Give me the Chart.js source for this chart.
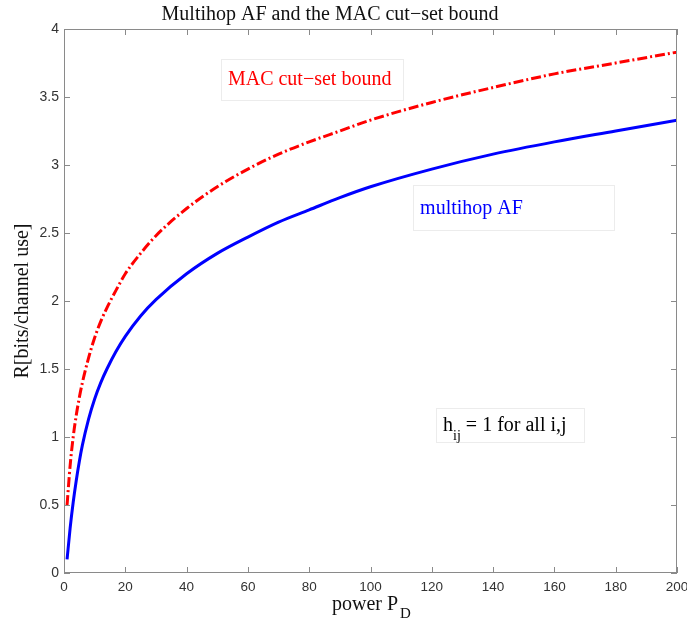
<!DOCTYPE html>
<html>
<head>
<meta charset="utf-8">
<script src="https://cdn.jsdelivr.net/npm/chart.js@4.4.1/dist/chart.umd.min.js"></script>
<style>
  html, body { margin: 0; padding: 0; background: #fff; }
  #wrap { width: 687px; height: 624px; position: relative; }
</style>
</head>
<body>
<div id="wrap"><canvas id="c"></canvas></div>
<script>
// values
const powerP = [1, 2, 3, 4, 5, 6, 8, 10, 12, 14, 17, 20, 25, 30, 40, 50, 60, 70, 80, 90, 100, 120, 140, 160, 180, 200];
const macBound = [0.50, 0.79, 1.00, 1.16, 1.29, 1.40, 1.58, 1.73, 1.85, 1.95, 2.08, 2.20, 2.35, 2.48, 2.68, 2.84, 2.97, 3.08, 3.17, 3.25, 3.33, 3.46, 3.57, 3.67, 3.75, 3.83];
const multihopAF = [0.10, 0.33, 0.52, 0.68, 0.82, 0.94, 1.13, 1.28, 1.40, 1.50, 1.63, 1.74, 1.89, 2.01, 2.20, 2.35, 2.47, 2.58, 2.67, 2.76, 2.84, 2.97, 3.08, 3.17, 3.25, 3.33];
const xTicks = [0, 20, 40, 60, 80, 100, 120, 140, 160, 180, 200];
const yTicks = [0, 0.5, 1, 1.5, 2, 2.5, 3, 3.5, 4];

const SERIF = "'Liberation Serif', 'Times New Roman', serif";
const SANS = "'Liberation Sans', Arial, sans-serif";
const BOX = '#8a8a8a';

// text boxes, anchored in data units
const notes = [
  { text: 'MAC cut\u2212set bound', color: '#ff0000', x0: 51.2, x1: 110.7, y0: 3.78, y1: 3.48 },
  { text: 'multihop AF', color: '#0000ff', x0: 113.9, x1: 179.4, y0: 2.85, y1: 2.52 },
  { text: 'h', sub: 'ij', rest: ' = 1 for all i,j', color: '#000', x0: 121.4, x1: 169.7, y0: 1.21, y1: 0.96 },
];

const pts = (ys) => ys.map((y, i) => ({ x: powerP[i], y }));

// matlab-ish frame: box plus inward ticks on all four sides, titles, notes
const frame = {
  id: 'frame',
  afterDatasetsDraw(chart) {
    const { ctx, chartArea: a, scales: { x, y } } = chart;
    ctx.save();
    ctx.strokeStyle = BOX; ctx.lineWidth = 1;
    ctx.strokeRect(a.left + 0.5, a.top + 0.5, a.width - 1, a.height - 1);
    ctx.beginPath();
    const t = 6;
    xTicks.forEach(v => {
      const px = Math.round(x.getPixelForValue(v)) + 0.5;
      ctx.moveTo(px, a.bottom); ctx.lineTo(px, a.bottom - t);
      ctx.moveTo(px, a.top); ctx.lineTo(px, a.top + t);
    });
    yTicks.forEach(v => {
      const py = Math.round(y.getPixelForValue(v)) + 0.5;
      ctx.moveTo(a.left, py); ctx.lineTo(a.left + t, py);
      ctx.moveTo(a.right, py); ctx.lineTo(a.right - t, py);
    });
    ctx.stroke();
    ctx.restore();
  },
  afterDraw(chart) {
    const { ctx, chartArea: a, scales: { x, y } } = chart;
    ctx.save();
    ctx.fillStyle = '#111';
    ctx.textBaseline = 'alphabetic';
    // title
    ctx.font = '20px ' + SERIF; ctx.textAlign = 'center';
    ctx.fillText('Multihop AF and the MAC cut\u2212set bound', 330, 20);
    // x title with subscript
    ctx.font = '20px ' + SERIF; ctx.textAlign = 'left';
    const xt = 'power P', w = ctx.measureText(xt).width;
    const x0 = 332;
    ctx.fillText(xt, x0, 610);
    ctx.font = '15px ' + SERIF;
    ctx.fillText('D', x0 + w + 2, 618);
    // y title
    ctx.save();
    ctx.translate(28, (a.top + a.bottom) / 2);
    ctx.rotate(-Math.PI / 2);
    ctx.font = '20px ' + SERIF; ctx.textAlign = 'center';
    ctx.fillText('R[bits/channel use]', 0, 0);
    ctx.restore();
    // notes
    notes.forEach(n => {
      const l = x.getPixelForValue(n.x0), r = x.getPixelForValue(n.x1);
      const tp = y.getPixelForValue(n.y0), bt = y.getPixelForValue(n.y1);
      ctx.fillStyle = '#fff'; ctx.fillRect(l, tp, r - l, bt - tp);
      ctx.strokeStyle = '#ececec'; ctx.lineWidth = 1;
      ctx.strokeRect(Math.round(l) + 0.5, Math.round(tp) + 0.5, Math.round(r - l), Math.round(bt - tp));
      ctx.fillStyle = n.color; ctx.textAlign = 'left';
      const base = (tp + bt) / 2 + 6;
      let cx = l + 7;
      ctx.font = '20px ' + SERIF;
      ctx.fillText(n.text, cx, base);
      if (n.sub) {
        cx += ctx.measureText(n.text).width;
        ctx.font = '14px ' + SERIF;
        ctx.fillText(n.sub, cx, base + 9);
        cx += ctx.measureText(n.sub).width;
        ctx.font = '20px ' + SERIF;
        ctx.fillText(n.rest, cx, base);
      }
    });
    ctx.restore();
  },
};

new Chart(document.getElementById('c'), {
  type: 'line',
  data: {
    datasets: [
      { label: 'MAC cut-set bound', data: pts(macBound), borderColor: '#ff0000', borderWidth: 3,
        borderDash: [10, 3, 2, 3], borderCapStyle: 'butt', pointRadius: 0, fill: false,
        cubicInterpolationMode: 'monotone' },
      { label: 'multihop AF', data: pts(multihopAF), borderColor: '#0000ff', borderWidth: 3,
        pointRadius: 0, fill: false, cubicInterpolationMode: 'monotone' },
    ],
  },
  options: {
    responsive: true, maintainAspectRatio: false, animation: false,
    layout: { padding: { top: 29, right: 10, left: 0, bottom: 0 } },
    scales: {
      x: {
        type: 'linear', min: 0, max: 200,
        grid: { display: false, drawTicks: false }, border: { display: false },
        afterBuildTicks: s => { s.ticks = xTicks.map(v => ({ value: v })); },
        afterFit: s => { s.height = 51; s.paddingLeft = 0; s.paddingRight = 0; },
        ticks: { color: '#333', padding: 6, maxRotation: 0, autoSkip: false,
          font: { family: SANS, size: 13.5 }, callback: v => String(v) },
      },
      y: {
        min: 0, max: 4,
        grid: { display: false, drawTicks: false }, border: { display: false },
        afterBuildTicks: s => { s.ticks = yTicks.map(v => ({ value: v })); },
        afterFit: s => { s.width = 64; s.paddingTop = 0; s.paddingBottom = 0; },
        ticks: { color: '#333', padding: 5, font: { family: SANS, size: 14 }, callback: v => String(v) },
      },
    },
    plugins: { legend: { display: false }, tooltip: { enabled: false }, title: { display: false } },
  },
  plugins: [frame],
});
</script>
</body>
</html>
